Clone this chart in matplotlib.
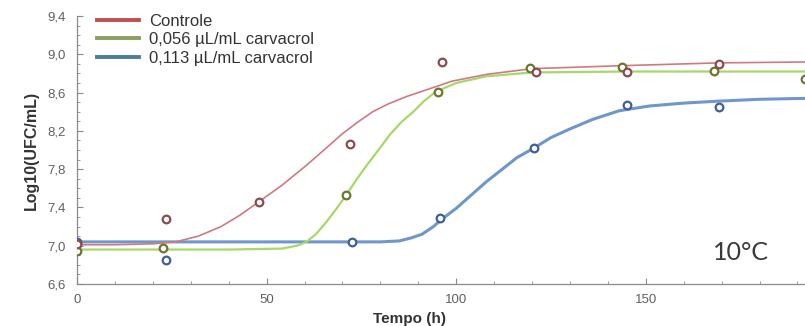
import matplotlib
matplotlib.use('Agg')
import matplotlib.pyplot as plt
from matplotlib.ticker import MultipleLocator, FixedLocator, FuncFormatter

plt.rcParams['font.family'] = ['Liberation Sans', 'DejaVu Sans']

# observed counts (h, log10 UFC/mL)
t_ctrl = [0, 23.6, 48, 72, 96.2, 121, 145, 169.4]
y_ctrl = [7.02, 7.28, 7.46, 8.06, 8.92, 8.82, 8.82, 8.90]
t_c056 = [0, 22.6, 71, 95.3, 119.5, 143.8, 168, 192]
y_c056 = [6.95, 6.975, 7.53, 8.61, 8.86, 8.87, 8.83, 8.74]
t_c113 = [0, 23.6, 72.4, 95.8, 120.5, 145, 169.4]
y_c113 = [7.04, 6.85, 7.04, 7.29, 8.02, 8.475, 8.45]

# fitted curves
ft_ctrl = [0, 10, 20, 26, 32, 38, 43, 48, 54, 60.5, 66, 70, 74, 78, 82, 87, 93, 99,
           108, 120, 143, 169, 193]
fy_ctrl = [7.01, 7.01, 7.02, 7.04, 7.10, 7.20, 7.32, 7.46, 7.63, 7.84, 8.03, 8.17,
           8.29, 8.40, 8.48, 8.56, 8.64, 8.72, 8.79, 8.85, 8.88, 8.91, 8.92]
ft_c056 = [0, 20, 40, 54, 58, 60.5, 63, 65.8, 68.5, 71, 73.7, 76.4, 79.5, 82.5, 85.5,
           88.7, 91.5, 94, 97, 100, 108, 120, 145, 193]
fy_c056 = [6.96, 6.96, 6.96, 6.97, 7.00, 7.04, 7.12, 7.25, 7.39, 7.53, 7.69, 7.84,
           8.00, 8.16, 8.29, 8.40, 8.51, 8.59, 8.65, 8.70, 8.77, 8.81, 8.82, 8.82]
ft_c113 = [0, 40, 80, 85, 88, 91, 94, 96, 100, 104, 108, 112.5, 116, 120.5, 125, 130,
           136, 143, 151, 160, 169, 180, 193]
fy_c113 = [7.04, 7.04, 7.04, 7.05, 7.08, 7.12, 7.20, 7.27, 7.39, 7.53, 7.67, 7.81,
           7.92, 8.02, 8.13, 8.22, 8.32, 8.41, 8.46, 8.49, 8.51, 8.53, 8.54]

labels = ['Controle', '0,056 µL/mL carvacrol', '0,113 µL/mL carvacrol']
yticks = [6.6, 7.0, 7.4, 7.8, 8.2, 8.6, 9.0, 9.4]
xticks = [0, 50, 100, 150]

fig = plt.figure(figsize=(8.05, 3.26), dpi=100)
ax = fig.add_axes([77 / 805, 42 / 326, 1 - 77 / 805, 268 / 326])

ax.plot(ft_c113, fy_c113, color='#6f97cc', lw=2.2, label=labels[2], zorder=2)
ax.plot(ft_c056, fy_c056, color='#a6d86a', lw=1.6, label=labels[1], zorder=3)
ax.plot(ft_ctrl, fy_ctrl, color='#cf7a80', lw=1.2, label=labels[0], zorder=4)

mk = dict(ls='none', marker='o', ms=5.5, mfc='white', mew=1.6, zorder=5)
ax.plot(t_c113, y_c113, mec='#3e5f9e', **mk)
ax.plot(t_c056, y_c056, mec='#6e7530', **mk)
ax.plot(t_ctrl, y_ctrl, mec='#8e4a4e', **mk)

ax.set_xlim(0, 192)
ax.set_ylim(6.6, 9.4)
ax.xaxis.set_major_locator(FixedLocator(xticks))
ax.xaxis.set_minor_locator(MultipleLocator(10))
ax.yaxis.set_major_locator(FixedLocator(yticks))
ax.yaxis.set_minor_locator(MultipleLocator(0.1))
ax.yaxis.set_major_formatter(FuncFormatter(lambda v, p: ('%.1f' % v).replace('.', ',')))
ax.tick_params(which='both', direction='in', colors='#8a8a8a', labelcolor='#606060',
               labelsize=9.5)
ax.tick_params(which='major', length=4)
ax.tick_params(which='minor', length=2)
ax.tick_params(axis='y', pad=8)
ax.tick_params(axis='x', pad=7)
for s in ['top', 'right']:
    ax.spines[s].set_visible(False)
for s in ['left', 'bottom']:
    ax.spines[s].set_color('#8a8a8a')
    ax.spines[s].set_linewidth(0.9)

ax.set_ylabel('Log10(UFC/mL)', fontsize=11.5, fontweight='bold', color='#333333',
              labelpad=6)
fig.text(409 / 805, 1 - 312 / 326, 'Tempo (h)', ha='center', va='top', fontsize=11,
         fontweight='bold', color='#333333')

ax.text(741, 326 - 252, '10°C', transform=None, ha='center', va='center', fontsize=18,
        family='Lato', color='#3a3a3a')

h, l = ax.get_legend_handles_labels()
leg = ax.legend(h[::-1], l[::-1], loc='upper left', bbox_to_anchor=(97 / 805, 1 - 14 / 326),
                bbox_transform=fig.transFigure, frameon=False, fontsize=12,
                handlelength=2.5, handletextpad=0.6, labelspacing=0.2, borderpad=0,
                borderaxespad=0)
for ln, c in zip(leg.get_lines(), ['#c0504d', '#8a9f5e', '#4a7d9c']):
    ln.set_linewidth(2.8)
    ln.set_color(c)
for txt in leg.get_texts():
    txt.set_color('#333333')

fig.savefig('out.png', dpi=100)
